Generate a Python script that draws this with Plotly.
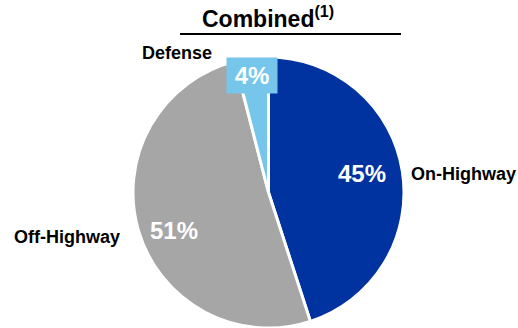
import plotly.graph_objects as go

W, H = 518, 328

segments = ["On-Highway", "Off-Highway", "Defense"]
shares = [45, 51, 4]
colors = ["#0033A0", "#A6A6A6", "#75C6EA"]
title_text = "Combined"
title_note = "(1)"

cx, cy, r = 268.5, 192.5, 135.5

def clamp(v):
    return min(1.0, max(0.0, v))

fig = go.Figure(go.Pie(
    labels=segments,
    values=shares,
    sort=False,
    direction="clockwise",
    rotation=0,
    marker=dict(colors=colors, line=dict(color="white", width=3)),
    textinfo="none",
    hoverinfo="label+percent",
    showlegend=False,
    domain=dict(x=[clamp((cx - r) / W), clamp((cx + r) / W)],
                y=[clamp((H - cy - r) / H), clamp((H - cy + r) / H)]),
))

def px(x):
    return x / W

def py(y):
    return 1 - y / H

font_lbl = dict(family="Liberation Sans, Arial, sans-serif", size=18, color="black")
font_pct = dict(family="Liberation Sans, Arial, sans-serif", size=24, color="white")

ann = []
ann.append(dict(x=px(463), y=py(174), text=f"<b>{segments[0]}</b>", font=font_lbl))
ann.append(dict(x=px(67), y=py(237), text=f"<b>{segments[1]}</b>", font=font_lbl))
ann.append(dict(x=px(177), y=py(53), text=f"<b>{segments[2]}</b>", font=font_lbl))
ann.append(dict(x=px(362), y=py(173), text=f"<b>{shares[0]}%</b>", font=font_pct))
ann.append(dict(x=px(174), y=py(230), text=f"<b>{shares[1]}%</b>", font=font_pct))
ann.append(dict(x=px(252), y=py(75.5), text=f"<b>{shares[2]}%</b>", font=font_pct,
                bgcolor=colors[2], width=50, height=35, borderpad=0))
ann.append(dict(x=px(268), y=py(17), text=f"<b>{title_text}<sup>{title_note}</sup></b>",
                font=dict(family="Liberation Sans, Arial, sans-serif", size=23, color="black")))
for a in ann:
    a.update(xref="paper", yref="paper", showarrow=False, xanchor="center", yanchor="middle")

fig.update_layout(
    width=W, height=H,
    margin=dict(l=0, r=0, t=0, b=0),
    paper_bgcolor="white", plot_bgcolor="white",
    annotations=ann,
    shapes=[dict(type="line", xref="paper", yref="paper",
                 x0=px(180), x1=px(401), y0=py(34), y1=py(34),
                 line=dict(color="black", width=2))],
)

fig.write_html(
    "out.html",
    config={"displayModeBar": False},
    post_script="document.body.style.margin='0';document.body.style.overflow='hidden';",
)
